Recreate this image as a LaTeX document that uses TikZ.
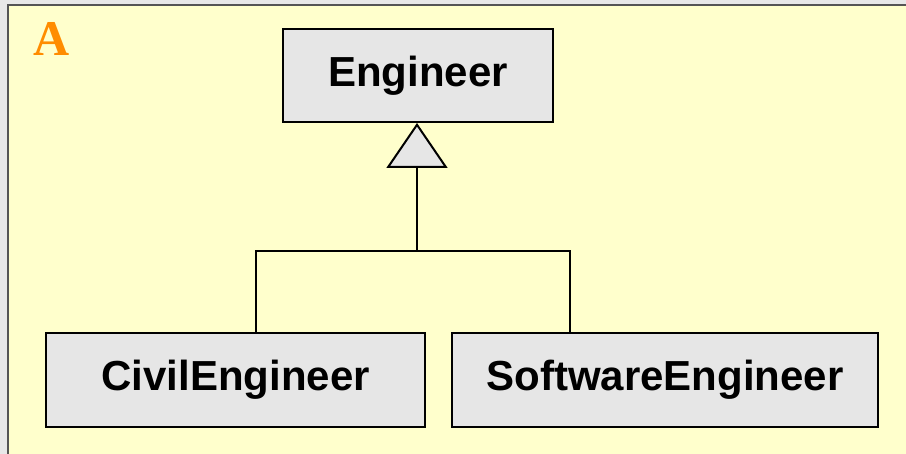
\documentclass[tikz,border=0pt]{standalone}
\usepackage{fontspec}
\setmainfont{Liberation Sans}
\newfontfamily\serifA{Liberation Serif}
\usetikzlibrary{arrows.meta}
\definecolor{outergray}{HTML}{E8E8E8}
\definecolor{panelyellow}{HTML}{FFFFCC}
\definecolor{boxgray}{HTML}{E6E6E6}
\definecolor{bordergray}{HTML}{555555}
\definecolor{labelorange}{HTML}{FF8C00}
\begin{document}
\begin{tikzpicture}[x=1pt,y=-1pt,
  classbox/.style={draw=black, fill=boxgray, line width=2.2pt, inner sep=0pt,
    font=\fontsize{42}{46}\selectfont\bfseries},
  conn/.style={draw=black, line width=2pt}]
\useasboundingbox (0,0) rectangle (906,454);
\fill[outergray] (0,0) rectangle (906,454);
\fill[panelyellow] (8,5) rectangle (906,454);
\draw[bordergray, line width=1.5pt] (8,454) -- (8,5) -- (906,5);
\node[text=labelorange, font=\serifA\fontsize{50}{54}\selectfont\bfseries, anchor=base west, inner sep=0pt] (lab) at (33,56) {A};
\node[classbox, minimum width=270pt, minimum height=93pt] (eng) at (418,75.5) {Engineer};
\node[classbox, minimum width=379pt, minimum height=94pt] (civil) at (235.5,380) {CivilEngineer};
\node[classbox, minimum width=426pt, minimum height=94pt] (soft) at (665,380) {SoftwareEngineer};
\coordinate (j) at (417,251);
\coordinate (cn) at (256,333);
\coordinate (sn) at (570,333);
\draw[conn] (cn) |- (j) -| (sn);
\draw[conn, -{Triangle[length=45pt, width=61pt, fill=boxgray, line width=2pt]}] (j) -- (417,123);
\end{tikzpicture}
\end{document}
